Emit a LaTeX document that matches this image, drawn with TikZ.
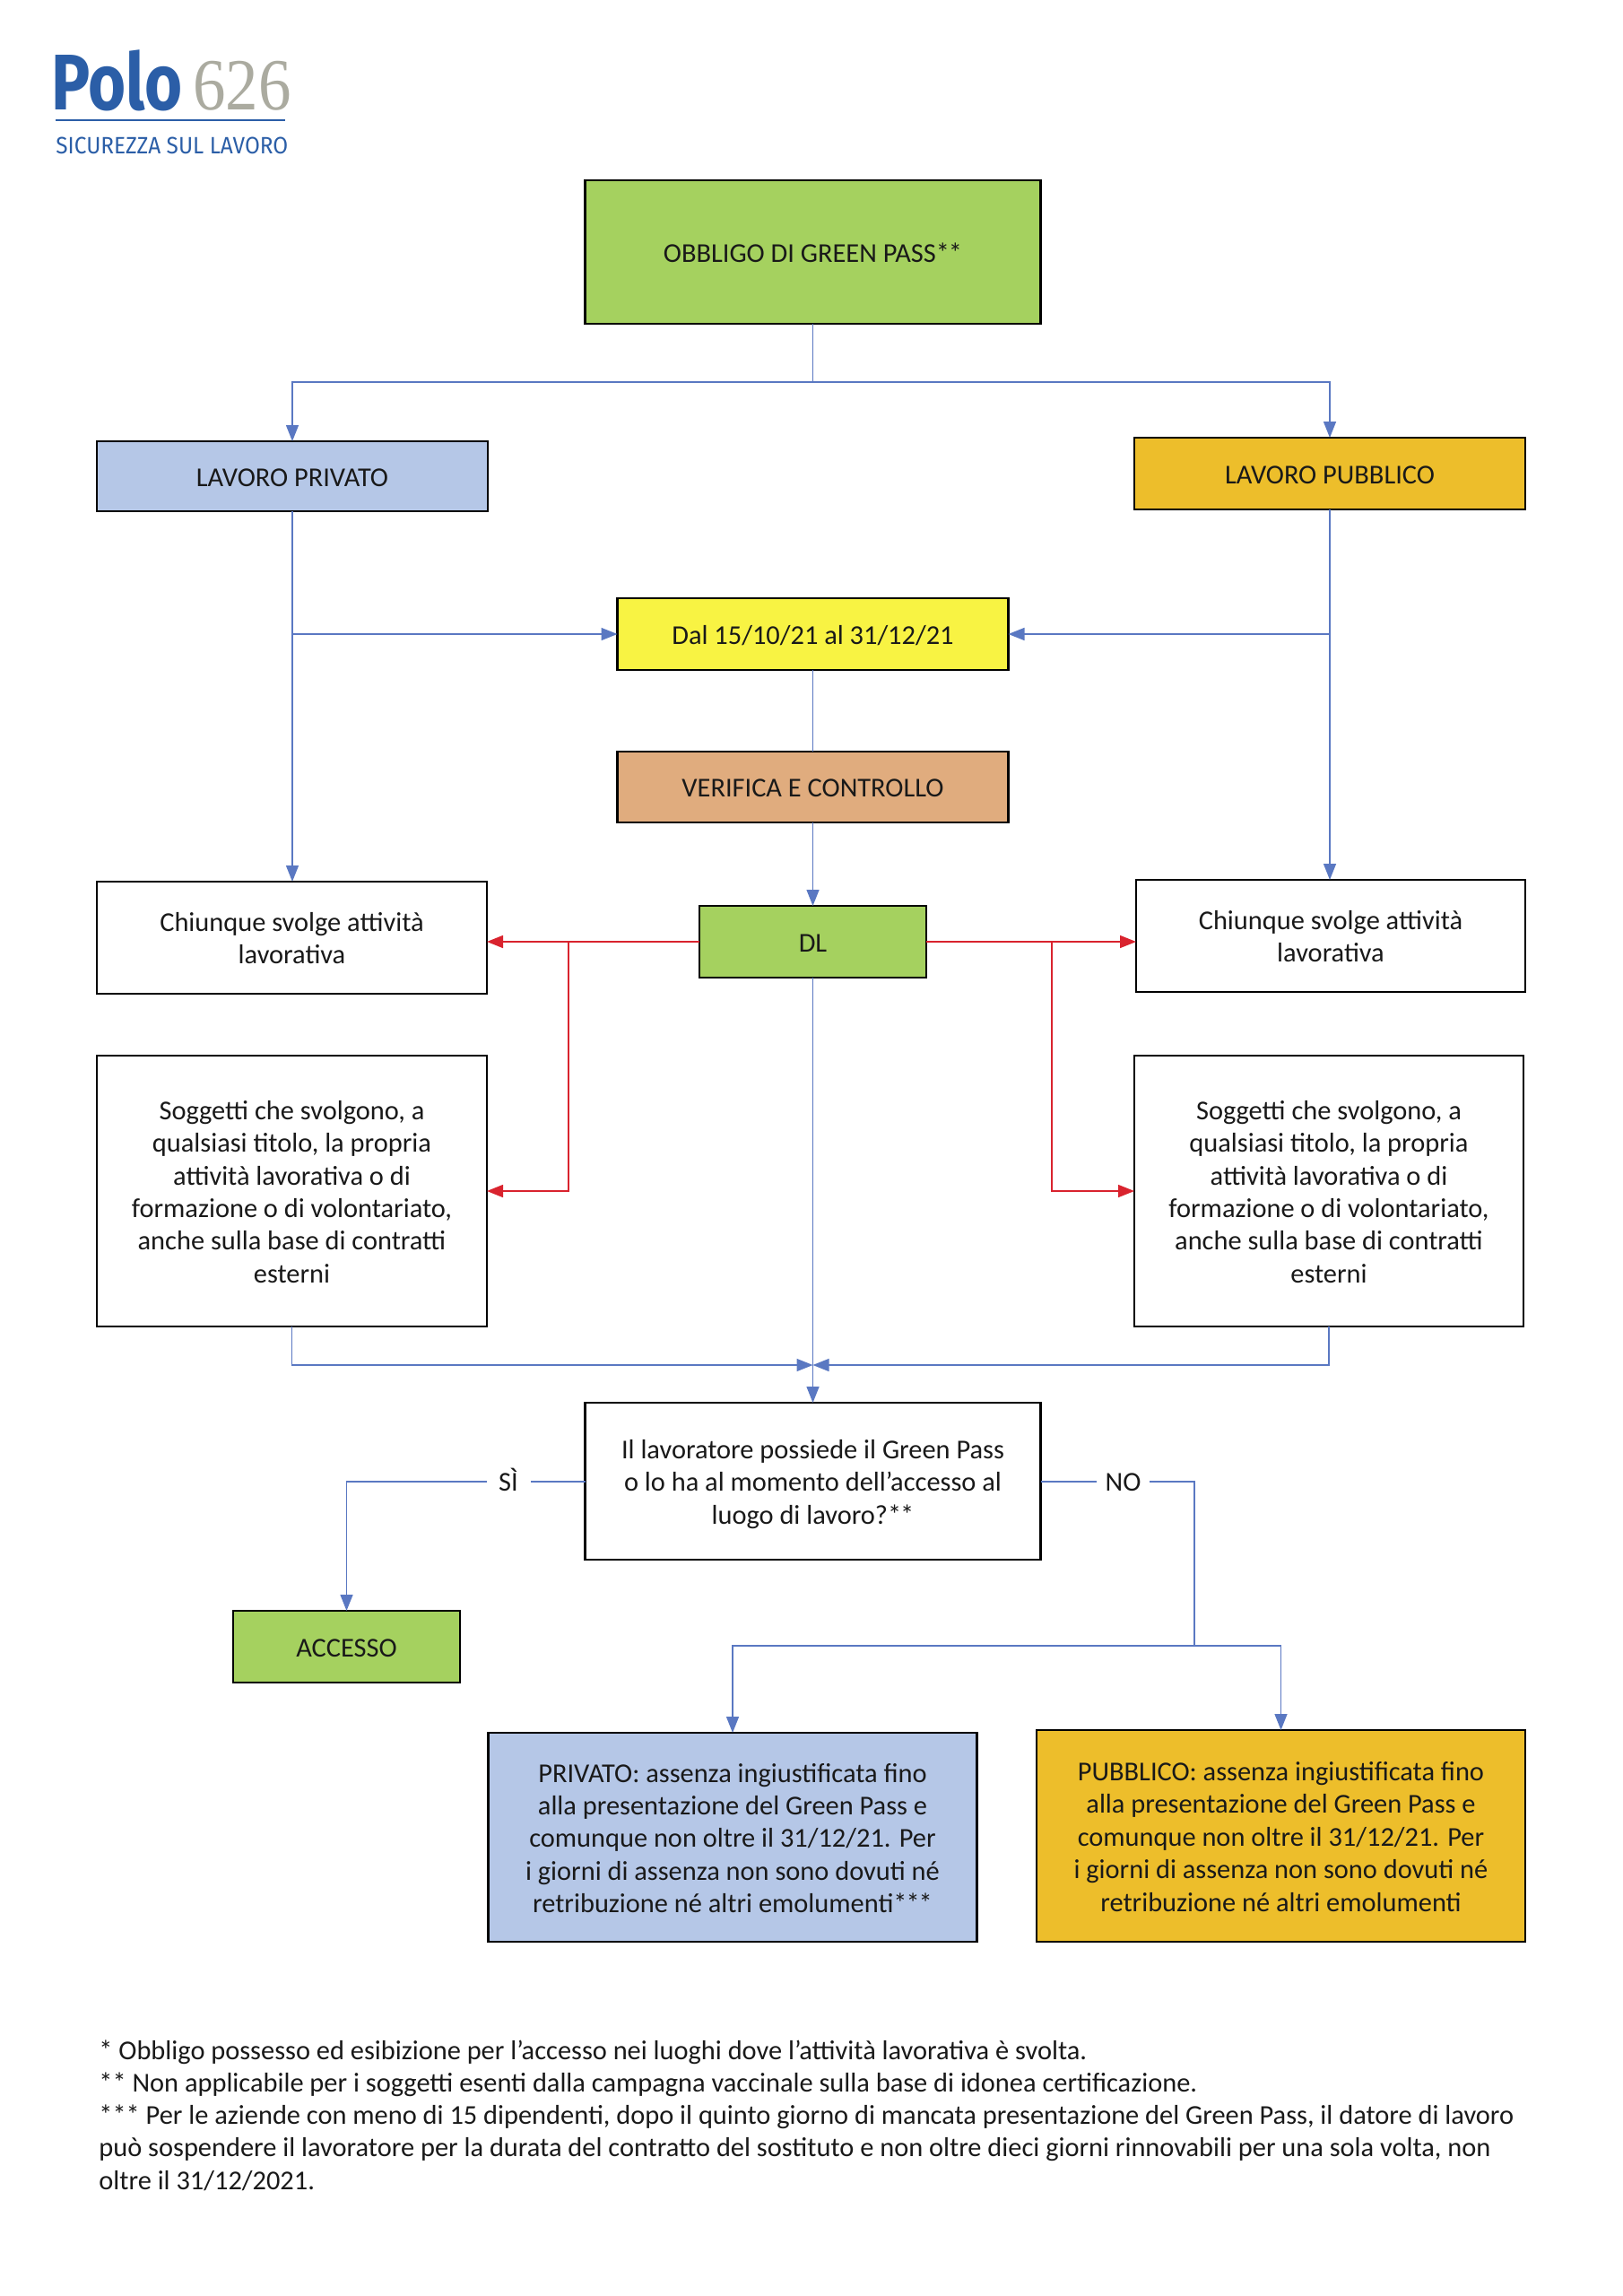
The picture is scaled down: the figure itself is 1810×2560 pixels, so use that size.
\documentclass[tikz,border=0pt]{standalone}
\usepackage{fontspec}
\setmainfont{Carlito}
\newfontfamily\logosans{Fira Sans}
\newfontfamily\logoserif{Liberation Serif}
\usetikzlibrary{arrows.meta,calc}
\definecolor{linkblue}{HTML}{5A78C2}
\definecolor{linkred}{HTML}{D9232E}
\definecolor{fillgreen}{HTML}{A5D15F}
\definecolor{fillblue}{HTML}{B5C7E7}
\definecolor{fillgold}{HTML}{EDBE2B}
\definecolor{fillyellow}{HTML}{F8F343}
\definecolor{fillorange}{HTML}{E0AC7E}
\definecolor{logoblue}{HTML}{2B5EA7}
\definecolor{logogray}{HTML}{ABABA0}
\tikzset{
  flowbox/.style={draw=black,line width=1.1pt,inner sep=0pt,outer sep=0pt,
    font=\fontsize{15.2}{18.2}\selectfont,text=black!90},
  link/.style={draw=linkblue,line width=.7pt},
  linkarrow/.style={link,-{Triangle[length=9pt,width=7pt]}},
  redlink/.style={draw=linkred,line width=.7pt},
  redarrow/.style={redlink,-{Triangle[length=9pt,width=7pt]}},
  lab/.style={font=\fontsize{15.2}{18.2}\selectfont,inner sep=0pt,outer sep=0pt,text=black!90},
}
\newcommand{\lowertxt}[2]{\raisebox{-#1}[\height][\depth]{\begin{tabular}{@{}c@{}}#2\end{tabular}}}
\newcommand{\bx}[7]{%
  \node[flowbox,#6,minimum width={(#4-#2)*0.5pt},minimum height={(#5-#3)*0.5pt}]
    (#1) at ({(#2+#4)/2},{(#3+#5)/2}) {\lowertxt{2pt}{#7}};}
\newcommand{\stars}{*\kern-.5pt*}
\newcommand{\starss}{*\kern-.5pt*\kern-.5pt*}
\begin{document}
\begin{tikzpicture}[x=0.5pt,y=-0.5pt]
\useasboundingbox (0,0) rectangle (1810,2560);
% logo
\node[anchor=base west,inner sep=0pt,text=logoblue,font=\logosans\bfseries\fontsize{44}{44}\selectfont,xscale=.82] (polo) at (57,122) {Polo};
\node[anchor=base west,inner sep=0pt,text=logogray,font=\logoserif\fontsize{41}{41}\selectfont,xscale=.89] (sei) at (215,122) {626};
\draw[logoblue,line width=.8pt] (62,134) -- (318,134);
\node[anchor=base west,inner sep=0pt,text=logoblue,font=\logosans\fontsize{13.2}{14}\selectfont,xscale=.924] (sic) at (62,171) {SICUREZZA SUL LAVORO};
% boxes
\bx{top}{652.5}{201}{1160.5}{361}{fill=fillgreen}{OBBLIGO DI GREEN PASS\stars}
\bx{priv}{108}{492}{544}{570}{fill=fillblue}{LAVORO PRIVATO}
\bx{pub}{1265}{488}{1701}{568}{fill=fillgold}{LAVORO PUBBLICO}
\bx{dal}{688.5}{667}{1124.5}{747}{fill=fillyellow}{Dal 15/10/21 al 31/12/21}
\bx{ver}{688.5}{838}{1124.5}{917}{fill=fillorange}{VERIFICA E CONTROLLO}
\bx{dl}{780}{1010}{1033}{1090}{fill=fillgreen}{DL}
\bx{chl}{108}{983}{543}{1108}{fill=white}{Chiunque svolge attività\\lavorativa}
\bx{chr}{1267}{981}{1701}{1106}{fill=white}{Chiunque svolge attività\\lavorativa}
\bx{sogl}{108}{1177}{543}{1479}{fill=white}{Soggetti che svolgono, a\\qualsiasi titolo, la propria\\attività lavorativa o di\\formazione o di volontariato,\\anche sulla base di contratti\\esterni}
\bx{sogr}{1265}{1177}{1699}{1479}{fill=white}{Soggetti che svolgono, a\\qualsiasi titolo, la propria\\attività lavorativa o di\\formazione o di volontariato,\\anche sulla base di contratti\\esterni}
\bx{q}{652.5}{1564}{1160.5}{1739}{fill=white}{Il lavoratore possiede il Green Pass\\o lo ha al momento dell’accesso al\\luogo di lavoro?\stars}
\bx{acc}{260}{1796}{513}{1876}{fill=fillgreen}{ACCESSO}
\bx{rpriv}{544.5}{1932}{1089.5}{2165}{fill=fillblue}{PRIVATO: assenza ingiustificata fino\\alla presentazione del Green Pass e\\comunque non oltre il 31/12/21. Per\\i giorni di assenza non sono dovuti né\\retribuzione né altri emolumenti\starss}
\bx{rpub}{1156}{1929}{1701}{2165}{fill=fillgold}{PUBBLICO: assenza ingiustificata fino\\alla presentazione del Green Pass e\\comunque non oltre il 31/12/21. Per\\i giorni di assenza non sono dovuti né\\retribuzione né altri emolumenti}
% helper points
\coordinate (topsplit) at (906.5,426);
\coordinate (mergeY) at (906.5,1522);
\coordinate (noY) at (1332,1835);
\coordinate (redlx) at (634,0);
\coordinate (redrx) at (1173,0);
% labels on connectors
\node[lab,minimum width=24.5pt] (si) at (567,1652) {\lowertxt{1.4pt}{SÌ}};
\node[lab,minimum width=29.5pt] (no) at (1252.5,1652) {\lowertxt{1.4pt}{NO}};
% blue connectors
\draw[link] (top.south) -- (topsplit);
\draw[linkarrow] (topsplit) -| (priv.north);
\draw[linkarrow] (topsplit) -| (pub.north);
\draw[linkarrow] (priv.south) -- (priv.south |- chl.north);
\draw[linkarrow] (pub.south) -- (pub.south |- chr.north);
\draw[linkarrow] (priv.south |- dal.west) -- (dal.west);
\draw[linkarrow] (pub.south |- dal.east) -- (dal.east);
\draw[link] (dal.south) -- (ver.north);
\draw[linkarrow] (ver.south) -- (dl.north);
\draw[linkarrow] (dl.south) -- (q.north);
\draw[linkarrow] (sogl.south) |- (mergeY);
\draw[linkarrow] (sogr.south) |- (mergeY);
\draw[link] (q.west |- si.east) -- (si.east);
\draw[linkarrow] (si.west) -| (acc.north);
\draw[link] (q.east |- no.west) -- (no.west);
\draw[link] (no.east) -| (noY);
\draw[linkarrow] (noY) -| (rpriv.north);
\draw[linkarrow] (noY) -| (rpub.north);
% red connectors
\draw[redarrow] (dl.west) -- (dl.west -| chl.east);
\draw[redarrow] (dl.east) -- (dl.east -| chr.west);
\draw[redarrow] (dl.west -| redlx) |- (sogl.east);
\draw[redarrow] (dl.east -| redrx) |- (sogr.west);
% footnotes
\node[anchor=north west,align=left,inner sep=0pt,text=black!90,font=\fontsize{15.2}{18.15}\selectfont] (foot) at (110,2274)
{* Obbligo possesso ed esibizione per l’accesso nei luoghi dove l’attività lavorativa è svolta.\\
** Non applicabile per i soggetti esenti dalla campagna vaccinale sulla base di idonea certificazione.\\
*** Per le aziende con meno di 15 dipendenti, dopo il quinto giorno di mancata presentazione del Green Pass, il datore di lavoro\\
può sospendere il lavoratore per la durata del contratto del sostituto e non oltre dieci giorni rinnovabili per una sola volta, non\\
oltre il 31/12/2021.};
\end{tikzpicture}
\end{document}
